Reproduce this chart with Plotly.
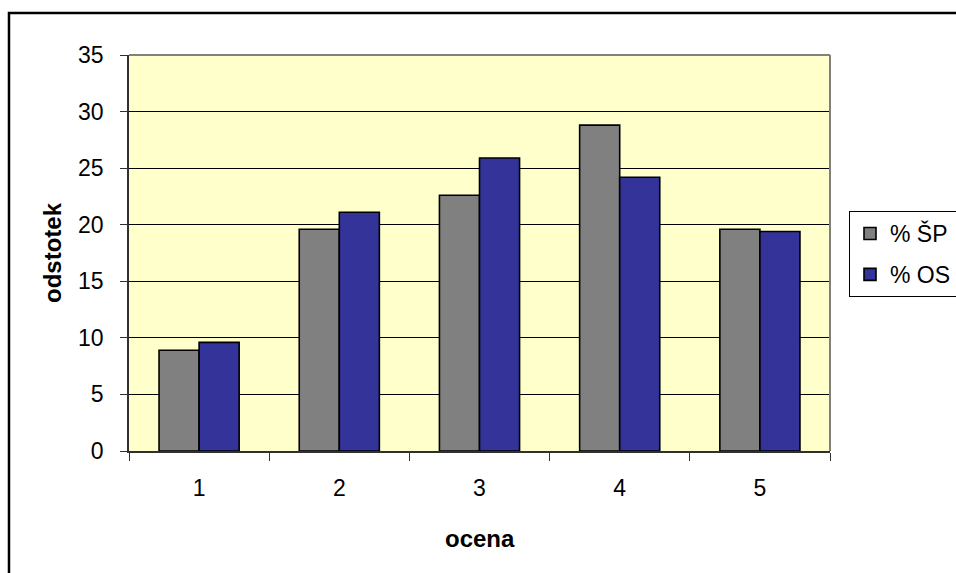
import plotly.graph_objects as go

# Grades and share of each group per grade (in %)
categories = ["1", "2", "3", "4", "5"]
sp_values = [8.9, 19.6, 22.6, 28.8, 19.6]
os_values = [9.6, 21.1, 25.9, 24.2, 19.4]
series_names = ["% ŠP", "% OS"]
y_ticks = [0, 5, 10, 15, 20, 25, 30, 35]

FONT = "Arial, Liberation Sans, sans-serif"

fig = go.Figure()
fig.add_trace(go.Bar(
    x=categories, y=sp_values, name=series_names[0], legendgroup="sp",
    marker=dict(color="#808080", line=dict(color="black", width=1.6)),
))
fig.add_trace(go.Bar(
    x=categories, y=os_values, name=series_names[1], legendgroup="os",
    marker=dict(color="#333399", line=dict(color="black", width=1.6)),
))

fig.update_layout(
    width=956, height=573,
    margin=dict(l=129, r=126, t=55, b=122, autoexpand=False),
    paper_bgcolor="white",
    plot_bgcolor="#FFFFCC",
    barmode="group",
    bargap=0.4286,
    bargroupgap=0,
    font=dict(family=FONT, size=23, color="black"),
    showlegend=True,
    legend=dict(
        xref="container", yref="container",
        x=849 / 956, y=1 - 211 / 573, xanchor="left", yanchor="top",
        bordercolor="black", borderwidth=1,
        font=dict(family=FONT, size=23, color="black"),
        traceorder="grouped", tracegroupgap=8, itemwidth=30,
        bgcolor="white",
    ),
    xaxis=dict(
        type="category",
        showline=True, linecolor="#303030", linewidth=1.5,
        ticks="outside", tickson="boundaries", ticklen=8, tickcolor="#303030",
        ticklabelstandoff=16,
        showgrid=False,
        tickfont=dict(size=23),
    ),
    yaxis=dict(
        range=[0, 35], tickvals=y_ticks,
        showline=True, linecolor="#303030", linewidth=1.5,
        ticks="outside", ticklen=7, tickcolor="#303030",
        ticklabelstandoff=12,
        showgrid=True, gridcolor="black", gridwidth=1,
        zeroline=False,
        tickfont=dict(size=23),
    ),
    shapes=[
        # top and right edge of the plot area
        dict(type="line", xref="paper", yref="paper", x0=0, x1=1, y0=1, y1=1,
             line=dict(color="#808080", width=2)),
        dict(type="line", xref="paper", yref="paper", x0=1, x1=1, y0=0, y1=1,
             line=dict(color="#808080", width=2)),
        # outer chart frame
        dict(type="rect", xref="paper", yref="paper",
             x0=-0.1712, x1=1.3, y0=-0.5, y1=1.106,
             line=dict(color="black", width=2.5)),
    ],
    annotations=[
        dict(text="<b>ocena</b>", xref="paper", yref="paper",
             x=0.5, y=(451 - 538) / 396, xanchor="center", yanchor="middle",
             showarrow=False, font=dict(family=FONT, size=24)),
        dict(text="<b>odstotek</b>", xref="paper", yref="paper",
             x=(52 - 129) / 701, y=(451 - 253) / 396, xanchor="center", yanchor="middle",
             textangle=-90, showarrow=False, font=dict(family=FONT, size=24)),
    ],
)

fig.write_html("out.html")
